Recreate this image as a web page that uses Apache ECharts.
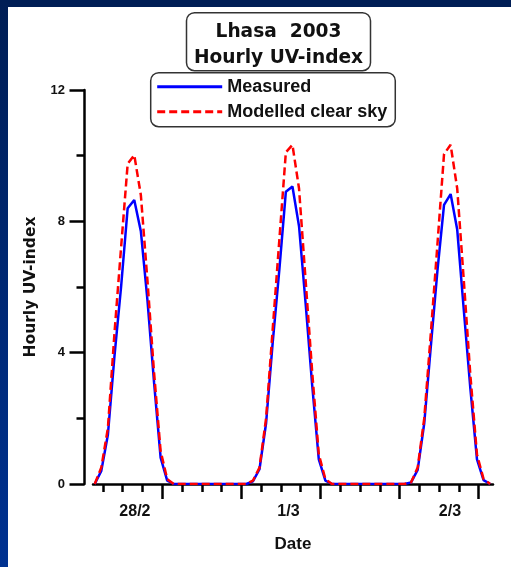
<!DOCTYPE html>
<html><head><meta charset="utf-8">
<script src="https://cdn.jsdelivr.net/npm/echarts@6/dist/echarts.min.js"></script>
<style>html,body{margin:0;padding:0;background:#fff}#c{width:511px;height:567px}</style>
</head><body><div id="c"></div>
<script>
// hours since first hourly reading (28/2 ... 2/3, 2003)
const hours = [0,1,2,3,4,5,6,7,8,9,10,11,12,13,14,15,16,17,18,19,20,21,22,23,24,25,26,27,28,29,30,31,32,33,34,35,36,37,38,39,40,41,42,43,44,45,46,47,48,49,50,51,52,53,54,55,56,57,58,59,60];
const measured = [0,0.4,1.5,3.9,6.0,8.4,8.65,7.7,5.6,3.1,0.8,0.1,0, 0,0,0,0,0,0,0,0,0,0,0,
  0.08,0.45,1.85,4.3,6.5,8.9,9.06,7.85,5.5,3.0,0.75,0.1,0, 0,0,0,0,0,0,0,0,0,0,0,
  0.05,0.43,1.85,4.2,6.5,8.5,8.83,7.75,5.3,2.9,0.75,0.12,0];
const modelled = [0,0.5,1.7,4.6,7.2,9.75,10.02,8.8,6.2,3.4,1.0,0.15,0, 0,0,0,0,0,0,0,0,0,0,0,
  0.1,0.5,2.0,4.7,7.4,10.1,10.33,9.0,6.2,3.4,0.9,0.15,0, 0,0,0,0,0,0,0,0,0,0,0,
  0.05,0.5,2.0,4.6,7.3,10.05,10.33,9.0,6.2,3.3,0.9,0.15,0];
const majorTicks = [10.25,22.25,34.25,46.25,58.25];
const minorTicks = [1.25,4.25,7.25,13.25,16.25,19.25,25.25,28.25,31.25,37.25,40.25,43.25,49.25,52.25,55.25];
const dateLabelPos = [6.1,29.4,53.9];
const dateLabels = ['28/2','1/3','2/3'];
const xMin = -0.26, xMax = 60.43;

const chart = echarts.init(document.getElementById('c'), null, {renderer:'canvas'});
const axisBlack = {color:'#000', width:2.5};
const boldArial = {fontFamily:'Liberation Sans, Arial, sans-serif', fontWeight:'bold', color:'#111'};
chart.setOption({
  animation:false,
  backgroundColor:'#fff',
  graphic:[
    {type:'rect', shape:{x:0,y:0,width:511,height:7}, style:{fill:'#001e55'}, silent:true},
    {type:'rect', shape:{x:0,y:0,width:8,height:567}, style:{fill:{type:'linear',x:0,y:0,x2:0,y2:1,colorStops:[{offset:0,color:'#001e55'},{offset:1,color:'#003291'}]}}, silent:true}
  ],
  title:{
    text:'Lhasa  2003\nHourly UV-index',
    left:270.5, top:12.7, textAlign:'center', textVerticalAlign:'top',
    padding:[7,8,0,8],
    borderColor:'#333', borderWidth:1.5, borderRadius:8, backgroundColor:'#fff',
    textStyle:{fontFamily:'DejaVu Sans, sans-serif', fontWeight:'bold', fontSize:18.6, lineHeight:25.6, color:'#111'}
  },
  legend:{
    orient:'vertical', left:150.7, top:72.7,
    itemWidth:65, itemHeight:14, itemGap:7,
    padding:[5,8,6,5],
    borderColor:'#333', borderWidth:1.5, borderRadius:8, backgroundColor:'#fff',
    itemStyle:{opacity:0},
    lineStyle:{width:3},
    textStyle:Object.assign({fontSize:18}, boldArial),
    data:['Measured','Modelled clear sky']
  },
  grid:{left:93, right:18, top:90, bottom:83, containLabel:false, outerBoundsMode:'none'},
  xAxis:[{
    type:'value', min:xMin, max:xMax, position:'bottom',
    axisLine:{show:true, onZero:false, lineStyle:axisBlack},
    axisTick:{show:true, customValues:majorTicks, length:15, inside:false, lineStyle:axisBlack},
    axisLabel:Object.assign({show:true, customValues:dateLabelPos, margin:20, fontSize:16,
      formatter:function(v){ let i = dateLabelPos.findIndex(p=>Math.abs(p-v)<0.01); return i>=0?dateLabels[i]:''; }}, boldArial),
    splitLine:{show:false},
    name:'Date', nameLocation:'middle', nameGap:52,
    nameTextStyle:Object.assign({fontSize:17}, boldArial)
  },{
    type:'value', min:xMin, max:xMax, position:'bottom',
    axisLine:{show:false},
    axisTick:{show:true, customValues:minorTicks, length:8, inside:false, lineStyle:axisBlack},
    axisLabel:{show:false}, splitLine:{show:false}
  }],
  yAxis:{
    type:'value', min:0, max:12, interval:4, offset:8.5,
    axisLine:{show:true, onZero:false, lineStyle:axisBlack},
    axisTick:{show:true, length:15, inside:false, lineStyle:axisBlack},
    minorTick:{show:true, splitNumber:2, length:8, lineStyle:axisBlack},
    axisLabel:Object.assign({margin:19.5, fontSize:13}, boldArial),
    splitLine:{show:false}, minorSplitLine:{show:false},
    name:'Hourly UV-index', nameLocation:'middle', nameGap:46, nameRotate:90,
    nameTextStyle:{fontFamily:'DejaVu Sans, sans-serif', fontWeight:'bold', fontSize:15.5, color:'#111'}
  },
  series:[
    {name:'Measured', type:'line', xAxisIndex:0, symbol:'none', z:2,
      data:hours.map((h,i)=>[h,measured[i]]),
      lineStyle:{color:'#0000ff', width:2.5}, itemStyle:{color:'#0000ff'}},
    {name:'Modelled clear sky', type:'line', xAxisIndex:0, symbol:'none', z:3,
      data:hours.map((h,i)=>[h,modelled[i]]),
      lineStyle:{color:'#ff0000', width:2.5, type:[8,4]}, itemStyle:{color:'#ff0000'}}
  ]
});
</script></body></html>
